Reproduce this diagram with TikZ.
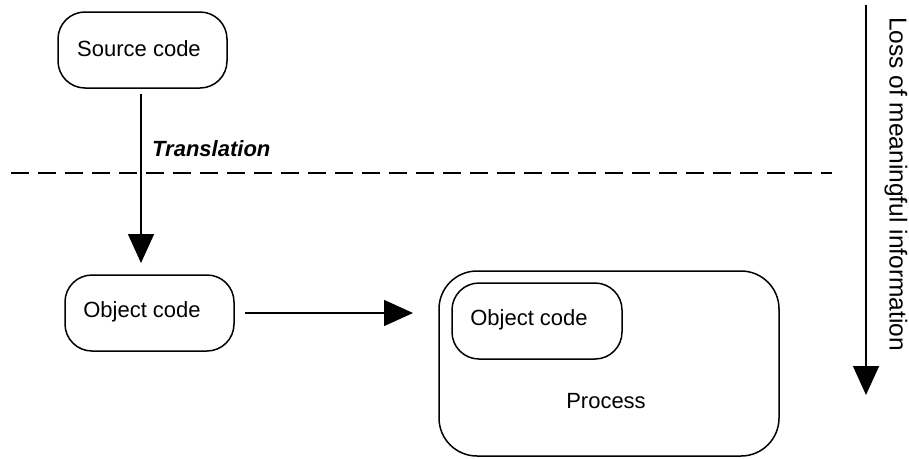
\documentclass[tikz,border=0pt]{standalone}
\usepackage{fontspec}
\setmainfont{Liberation Sans}
\usetikzlibrary{arrows.meta}
\tikzset{
  box/.style={draw, line width=1.5pt, rounded corners=27pt, inner sep=0pt},
  bigbox/.style={draw, line width=1.5pt, rounded corners=38pt, inner sep=0pt},
  lbl/.style={inner sep=0pt, font=\fontsize{22pt}{26pt}\selectfont},
  conn/.style={line width=1.5pt, -{Triangle[length=29pt,width=26pt]}},
  sep/.style={line width=1.8pt, dash pattern=on 18pt off 9pt}
}
\begin{document}
\begin{tikzpicture}[x=1pt,y=-1pt]
\useasboundingbox (0,0) rectangle (909,458);
% source code
\node[box, minimum width=169pt, minimum height=76pt] (sc) at (142.5,50) {};
\node[lbl] (sctext) at (139,49) {Source code};
% object code
\node[box, minimum width=169pt, minimum height=76pt] (oc) at (149.5,313) {};
\node[lbl] (octext) at (142,312) {Object code};
% process
\node[bigbox, minimum width=340pt, minimum height=185pt] (proc) at (609,363.5) {};
\node[box, minimum width=170pt, minimum height=76pt] (ioc) at (537,321) {};
\node[lbl] (ioctext) at (529,320) {Object code};
\node[lbl] (proctext) at (606,401) {Process};
% dashed separator
\coordinate (dl) at (11,173);
\coordinate (dr) at (832,173);
\draw[sep] (dl) -- (dr);
% translation arrow
\coordinate (ta) at (141,94);
\coordinate (tb) at (141,263);
\draw[conn] (ta) -- (tb);
\node[lbl, font=\fontsize{22pt}{26pt}\selectfont\bfseries\itshape, anchor=west] (trans) at (152,149) {Translation};
% object code to process
\coordinate (ha) at (245,313);
\coordinate (hb) at (413,313);
\draw[conn] (ha) -- (hb);
% loss arrow
\coordinate (la) at (866,5);
\coordinate (lb) at (866,395);
\draw[conn] (la) -- (lb);
\node[lbl, font=\fontsize{24.5pt}{28pt}\selectfont, rotate=-90] (loss) at (896,184) {Loss of meaningful information};
\end{tikzpicture}
\end{document}
